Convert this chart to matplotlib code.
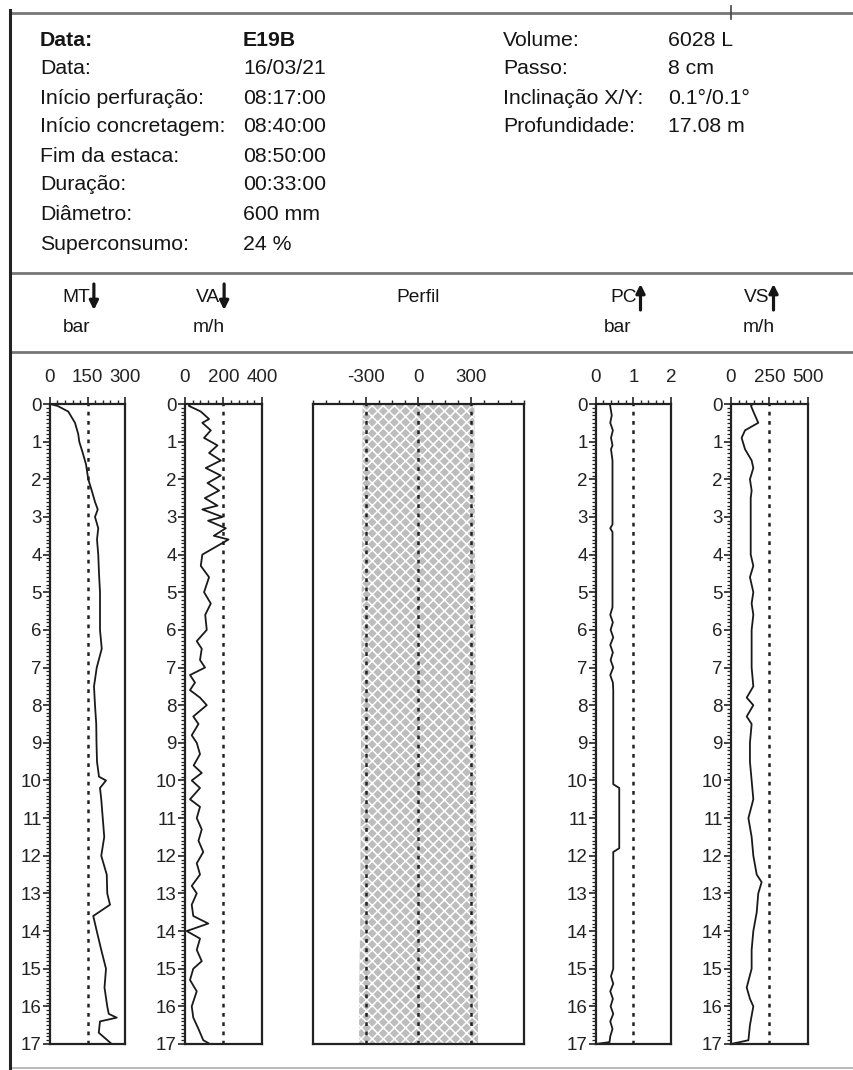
import matplotlib
matplotlib.use("Agg")
import matplotlib.pyplot as plt
from matplotlib.lines import Line2D
from matplotlib.patches import FancyArrowPatch
from matplotlib.ticker import MultipleLocator, FixedLocator

plt.rcParams['font.family'] = ['Liberation Sans', 'DejaVu Sans']
plt.rcParams['axes.unicode_minus'] = False
plt.rcParams['hatch.color'] = 'white'
plt.rcParams['hatch.linewidth'] = 1.1

W, H = 854, 1070

# ---- pile record header ----
info_left = [
    ("Data:", "E19B"),
    ("Data:", "16/03/21"),
    ("Início perfuração:", "08:17:00"),
    ("Início concretagem:", "08:40:00"),
    ("Fim da estaca:", "08:50:00"),
    ("Duração:", "00:33:00"),
    ("Diâmetro:", "600 mm"),
    ("Superconsumo:", "24 %"),
]
info_right = [
    ("Volume:", "6028 L"),
    ("Passo:", "8 cm"),
    ("Inclinação X/Y:", "0.1°/0.1°"),
    ("Profundidade:", "17.08 m"),
]

# ---- logged series (depth in m) ----
mt_depth = [0, 0.05, 0.2, 0.5, 0.8, 1.0, 1.3, 1.6, 2.0, 2.3, 2.6, 2.8, 3.0, 3.3,
            3.6, 4.0, 4.5, 5.0, 5.5, 6.0, 6.5, 7.0, 7.5, 8.0, 8.5, 9.0, 9.5, 9.9,
            10.0, 10.2, 10.5, 11.0, 11.5, 12.0, 12.5, 13.0, 13.3, 13.6, 14.0,
            14.5, 15.0, 15.5, 16.0, 16.2, 16.3, 16.4, 16.7, 17.0]
mt_bar = [0, 30, 73, 100, 113, 117, 131, 144, 153, 167, 180, 191, 180, 193,
          188, 193, 196, 200, 200, 200, 207, 187, 176, 180, 185, 186, 188, 196,
          224, 200, 205, 211, 217, 205, 227, 229, 240, 173, 187, 205, 224, 218,
          229, 235, 267, 200, 195, 247]

va_depth = [0, 0.05, 0.2, 0.4, 0.5, 0.7, 0.9, 1.1, 1.3, 1.5, 1.7, 1.9, 2.1, 2.3,
            2.5, 2.7, 2.8, 3.0, 3.1, 3.3, 3.5, 3.6, 4.0, 4.3, 4.6, 5.0, 5.3, 5.6,
            6.0, 6.3, 6.5, 6.8, 7.0, 7.2, 7.4, 7.6, 7.8, 8.0, 8.3, 8.5, 8.8, 9.0,
            9.3, 9.6, 9.8, 10.0, 10.2, 10.5, 10.7, 11.0, 11.3, 11.6, 11.9, 12.2,
            12.5, 12.8, 13.0, 13.3, 13.6, 13.8, 14.0, 14.2, 14.5, 14.8, 15.0,
            15.3, 15.6, 16.0, 16.3, 16.6, 16.9, 17.0, 17.0]
va_mh = [30, 20, 82, 125, 90, 134, 99, 169, 125, 186, 108, 186, 117, 177,
         103, 169, 90, 195, 120, 212, 150, 226, 90, 82, 125, 99, 134, 105,
         113, 61, 87, 78, 104, 26, 52, 26, 78, 113, 43, 70, 35, 61,
         78, 45, 87, 35, 78, 26, 78, 61, 87, 70, 95, 61,
         78, 35, 61, 35, 43, 121, 9, 78, 61, 87, 43,
         26, 61, 35, 43, 70, 95, 130, 10]

perfil_depth = [0, 2, 4, 6, 8, 10, 12, 14, 15, 16, 17]
perfil_radius = [318, 320, 322, 324, 326, 328, 330, 332, 336, 338, 338]

pc_depth = [0, 0.3, 0.5, 0.7, 0.9, 1.1, 1.2, 1.5, 3.2, 3.3, 3.4, 5.4, 5.6, 5.8,
            6.0, 6.2, 6.4, 6.6, 6.8, 7.0, 7.2, 7.4, 7.6, 10.1, 10.2, 11.8, 11.9,
            15.0, 15.2, 15.4, 15.6, 15.8, 16.0, 16.2, 16.4, 16.6, 16.8, 16.95, 17.0]
pc_bar = [0.37, 0.42, 0.38, 0.45, 0.40, 0.44, 0.40, 0.44, 0.44, 0.38, 0.44,
          0.44, 0.38, 0.45, 0.39, 0.46, 0.38, 0.45, 0.39, 0.46, 0.38, 0.45,
          0.46, 0.46, 0.62, 0.62, 0.46, 0.46, 0.40, 0.46, 0.38, 0.45, 0.39,
          0.46, 0.38, 0.44, 0.38, 0.36, 0.0]

vs_depth = [0, 0.05, 0.2, 0.5, 0.7, 0.9, 1.2, 1.5, 1.7, 2.0, 2.3, 2.5, 3.0, 3.5,
            4.0, 4.3, 4.6, 5.0, 5.3, 5.6, 6.0, 7.0, 7.5, 7.8, 8.0, 8.3, 8.5, 9.0,
            9.5, 10.0, 10.5, 11.0, 11.5, 12.0, 12.5, 12.7, 13.0, 13.5, 14.0,
            14.5, 15.0, 15.5, 15.8, 16.0, 16.5, 16.9, 17.0]
vs_mh = [140, 130, 145, 177, 91, 69, 91, 134, 145, 123, 134, 128, 128, 128,
         128, 145, 123, 145, 134, 145, 134, 134, 145, 102, 145, 102, 134, 123,
         123, 134, 145, 113, 134, 145, 167, 199, 177, 167, 145,
         134, 134, 102, 123, 145, 123, 113, 0]

fig = plt.figure(figsize=(W / 100, H / 100), dpi=100)


def fx(x):
    return x / W


def fy(y):
    return 1 - y / H


# ---- frame lines ----
def hline(y, x0, x1, color, lw):
    fig.add_artist(Line2D([fx(x0), fx(x1)], [fy(y), fy(y)], color=color, lw=lw))


hline(13, 10, W, '#777777', 2.0)
hline(273, 10, W, '#777777', 2.0)
hline(352, 10, W, '#777777', 2.0)
hline(1068, 10, W, '#bbbbbb', 1.5)
fig.add_artist(Line2D([fx(10), fx(10)], [fy(10), fy(1070)], color='#222222', lw=2.2))
fig.add_artist(Line2D([fx(731), fx(731)], [fy(6), fy(19)], color='#444444', lw=1.2))

# ---- header text ----
FS = 15.3
TXT = '#151515'
row_y = [41, 69, 98, 127, 156, 185, 215, 245]
for i, (lab, val) in enumerate(info_left):
    wt = 'bold' if i == 0 else 'normal'
    fig.text(fx(40), fy(row_y[i]), lab, fontsize=FS, fontweight=wt, va='center', ha='left', color=TXT)
    fig.text(fx(243), fy(row_y[i]), val, fontsize=FS, fontweight=wt, va='center', ha='left', color=TXT)
for i, (lab, val) in enumerate(info_right):
    fig.text(fx(503), fy(row_y[i]), lab, fontsize=FS, va='center', ha='left', color=TXT)
    fig.text(fx(668), fy(row_y[i]), val, fontsize=FS, va='center', ha='left', color=TXT)

# ---- column headers (name, direction arrow, unit) ----
HFS = 13.8
headers = [
    ("MT", "down", "bar", 62, 63),
    ("VA", "down", "m/h", 196, 193),
    ("PC", "up", "bar", 610, 604),
    ("VS", "up", "m/h", 744, 743),
]
renderer = fig.canvas.get_renderer()
for name, direction, unit, xn, xu in headers:
    t = fig.text(fx(xn), fy(298), name, fontsize=HFS, va='center', ha='left', color=TXT)
    bb = t.get_window_extent(renderer)
    ax_x = (bb.x1 + 4) / fig.bbox.width
    y_top, y_bot = fy(284), fy(310)
    start, end = ((ax_x, y_top), (ax_x, y_bot)) if direction == "down" else ((ax_x, y_bot), (ax_x, y_top))
    fig.add_artist(FancyArrowPatch(start, end, transform=fig.transFigure,
                                   arrowstyle='-|>', mutation_scale=13,
                                   lw=2.3, color=TXT, shrinkA=0, shrinkB=0))
    fig.text(fx(xu), fy(327), unit, fontsize=HFS, va='center', ha='left', color=TXT)
fig.text(fx(418), fy(298), "Perfil", fontsize=HFS, va='center', ha='center', color=TXT)

# ---- panels ----
top_px, bot_px = 404, 1044
panels = {
    'MT': (50, 125),
    'VA': (185, 262),
    'Perfil': (313, 524),
    'PC': (596, 671),
    'VS': (731, 808),
}
TICK_FS = 13.5


def make_axes(x0, x1):
    ax = fig.add_axes([fx(x0), fy(bot_px), (x1 - x0) / W, (bot_px - top_px) / H])
    ax.set_ylim(17, 0)
    for s in ax.spines.values():
        s.set_linewidth(1.6)
        s.set_color('#222222')
    ax.xaxis.tick_top()
    ax.tick_params(axis='x', which='major', direction='out', length=5, width=1.2,
                   labelsize=TICK_FS, pad=8, colors='#222222')
    ax.tick_params(axis='x', which='minor', direction='out', length=3, width=1.0,
                   colors='#222222')
    return ax


def style_depth(ax):
    ax.yaxis.set_major_locator(MultipleLocator(1))
    ax.yaxis.set_minor_locator(MultipleLocator(0.1))
    ax.tick_params(axis='y', which='major', direction='out', length=5, width=1.2,
                   labelsize=TICK_FS, pad=1, colors='#222222')
    ax.tick_params(axis='y', which='minor', direction='out', length=3, width=0.9,
                   colors='#222222')


LINE = dict(color='#1a1a1a', lw=1.3)
REF = dict(color='#222222', lw=1.8, ls=(0, (1.5, 2.2)))

# MT
ax = make_axes(*panels['MT'])
ax.set_xlim(0, 300)
ax.xaxis.set_major_locator(FixedLocator([0, 150, 300]))
ax.xaxis.set_minor_locator(MultipleLocator(30))
style_depth(ax)
ax.axvline(150, **REF)
ax.plot(mt_bar, mt_depth, **LINE)

# VA
ax = make_axes(*panels['VA'])
ax.set_xlim(0, 400)
ax.xaxis.set_major_locator(FixedLocator([0, 200, 400]))
ax.xaxis.set_minor_locator(MultipleLocator(40))
style_depth(ax)
ax.axvline(200, **REF)
ax.plot(va_mh, va_depth, **LINE)

# Perfil
ax = make_axes(*panels['Perfil'])
ax.set_xlim(-600, 600)
ax.xaxis.set_major_locator(FixedLocator([-300, 0, 300]))
ax.xaxis.set_minor_locator(MultipleLocator(75))
ax.set_yticks([])
neg = [-r for r in perfil_radius]
ax.fill_betweenx(perfil_depth, neg, perfil_radius, facecolor='#bdbdbd',
                 edgecolor='white', hatch='xxx', lw=0)
for v in (-300, 0, 300):
    ax.axvline(v, **REF)

# PC
ax = make_axes(*panels['PC'])
ax.set_xlim(0, 2)
ax.xaxis.set_major_locator(FixedLocator([0, 1, 2]))
ax.xaxis.set_minor_locator(MultipleLocator(0.2))
style_depth(ax)
ax.axvline(1, **REF)
ax.plot(pc_bar, pc_depth, **LINE)

# VS
ax = make_axes(*panels['VS'])
ax.set_xlim(0, 500)
ax.xaxis.set_major_locator(FixedLocator([0, 250, 500]))
ax.xaxis.set_minor_locator(MultipleLocator(50))
style_depth(ax)
ax.axvline(250, **REF)
ax.plot(vs_mh, vs_depth, **LINE)

fig.savefig("out.png", dpi=100)
